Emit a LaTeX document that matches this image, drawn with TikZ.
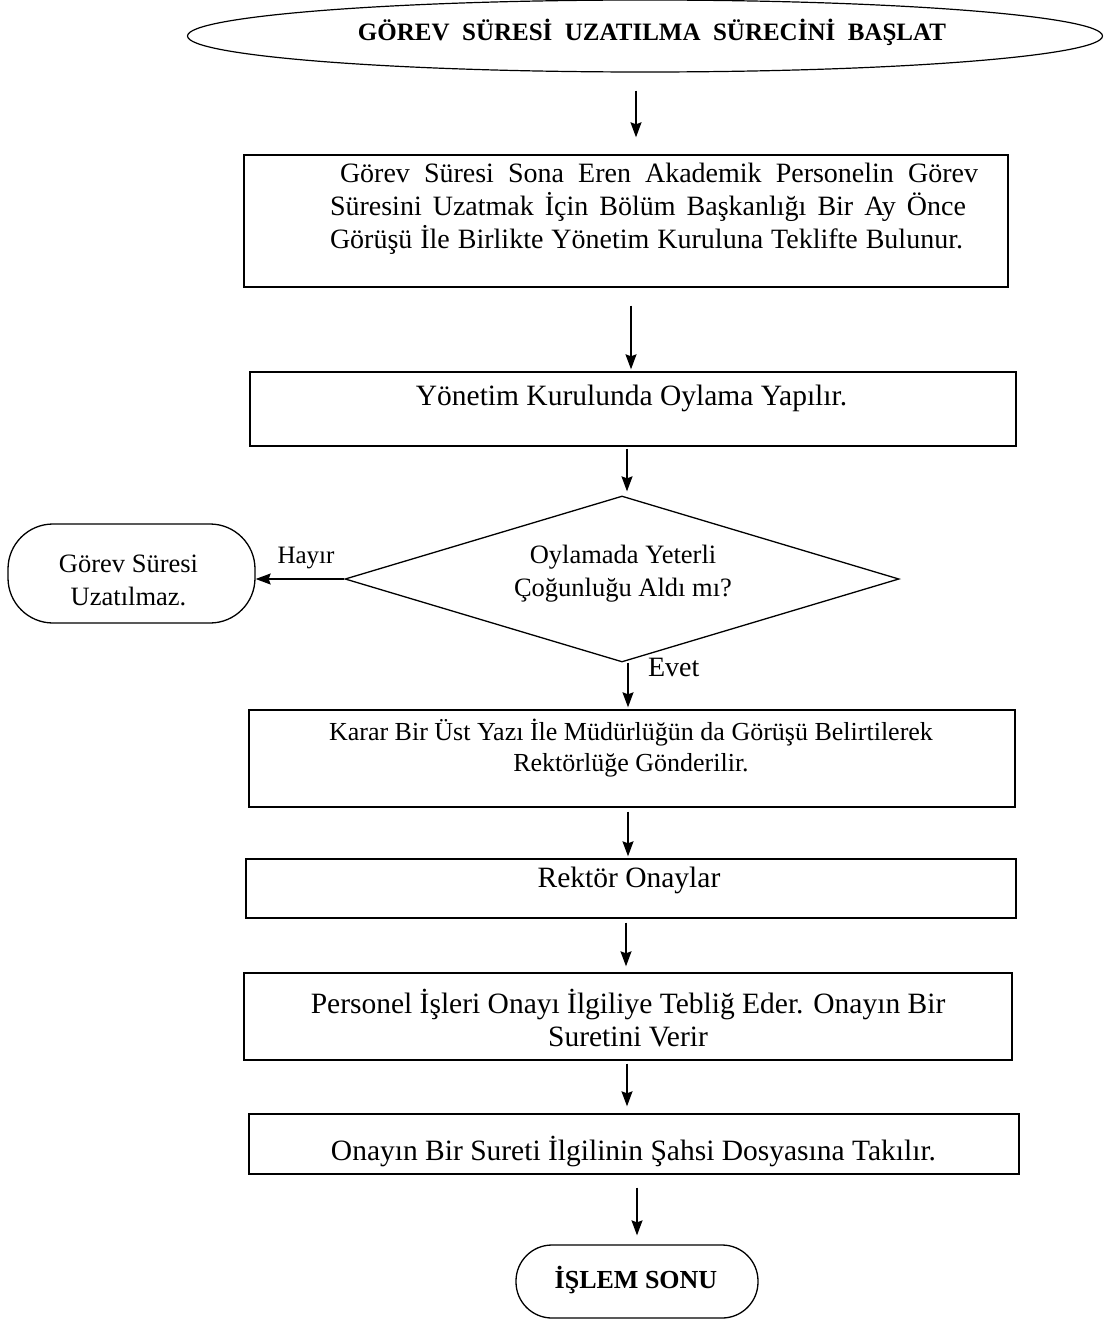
\documentclass[tikz,border=0pt]{standalone}
\usepackage{fontspec}
\setmainfont{Liberation Serif}
\usetikzlibrary{shapes.geometric,arrows.meta}
\begin{document}
\begin{tikzpicture}[x=1pt,y=-1pt,
  box/.style={draw, line width=1.4pt, rectangle, inner sep=0pt},
  term/.style={draw, line width=1.3pt, rectangle, inner sep=0pt},
  arr/.style={-{Stealth[length=15pt,width=11pt,inset=2pt]}, line width=1.4pt},
  fA/.style={font=\fontsize{29.5}{33}\selectfont},
  fB/.style={font=\fontsize{26}{31}\selectfont},
  fC/.style={font=\fontsize{26.5}{33}\selectfont}]
\useasboundingbox (0,0) rectangle (1109,1322);

\node[draw, line width=1.2pt, ellipse, minimum width=915pt, minimum height=72pt, inner sep=0pt] (start) at (645,36) {};
\node[font=\fontsize{25}{29}\bfseries\selectfont] (startt) at (652,32) {GÖREV\ \ SÜRESİ\ \ UZATILMA\ \ SÜRECİNİ\ \ BAŞLAT};

\node[box, minimum width=764pt, minimum height=132pt] (b1) at (626,221) {};
\node[font=\fontsize{28}{33}\selectfont, align=left, inner sep=0pt] (b1t) at (654,209) {\hspace{10pt}\makebox[638pt][s]{Görev Süresi Sona Eren Akademik Personelin Görev}\\\makebox[636pt][s]{Süresini Uzatmak İçin Bölüm Başkanlığı Bir Ay Önce}\\\makebox[633pt][s]{Görüşü İle Birlikte Yönetim Kuruluna Teklifte Bulunur.}};

\node[box, minimum width=766pt, minimum height=74pt] (b2) at (633,409) {};
\node[fA] (b2t) at (631.5,398) {Yönetim Kurulunda Oylama Yapılır.};

\node[draw, line width=1.3pt, diamond, minimum width=554pt, minimum height=166pt, inner sep=0pt] (d) at (622,579) {};
\node[fC, align=center] (dt) at (623,574) {Oylamada Yeterli\\Çoğunluğu Aldı mı?};

\node[term, rounded corners=45pt, minimum width=247pt, minimum height=99pt] (no) at (131.5,573.5) {};
\node[fC, align=center] (not) at (128.5,580) {Görev Süresi\\Uzatılmaz.};

\node[box, minimum width=766pt, minimum height=97pt] (b3) at (632,758.5) {};
\node[fB, align=center] (b3t) at (631,748) {Karar Bir Üst Yazı İle Müdürlüğün da Görüşü Belirtilerek\\Rektörlüğe Gönderilir.};

\node[box, minimum width=770pt, minimum height=59pt] (b4) at (631,888.5) {};
\node[fA] (b4t) at (629,880) {Rektör Onaylar};

\node[box, minimum width=768pt, minimum height=87pt] (b5) at (628,1016.5) {};
\node[fA, align=center] (b5t) at (628,1018) {Personel İşleri Onayı İlgiliye Tebliğ Eder. Onayın Bir\\Suretini Verir};

\node[box, minimum width=770pt, minimum height=60pt] (b6) at (634,1144) {};
\node[fA] (b6t) at (633.5,1151) {Onayın Bir Sureti İlgilinin Şahsi Dosyasına Takılır.};

\node[term, rounded corners=36pt, minimum width=242pt, minimum height=73pt] (end) at (637,1281.5) {};
\node[font=\fontsize{26}{30}\bfseries\selectfont] (endt) at (636,1280) {İŞLEM SONU};

\draw[arr, shorten <=18pt, shorten >=17pt] ([xshift=-9pt]start.south) -- ([xshift=10pt]b1.north);
\draw[arr, shorten <=18pt, shorten >=2pt] ([xshift=5pt]b1.south) -- ([xshift=-2pt]b2.north);
\draw[arr, shorten <=2pt, shorten >=4pt] ([xshift=-6pt]b2.south) -- ([xshift=5pt]d.north);
\draw[arr] (d.west) -- (d.west -| no.east) node[midway, above=6pt, xshift=6pt, font=\fontsize{25}{30}\selectfont] (hay) {Hayır};
\draw[arr, shorten >=2pt] ([xshift=6pt]d.south) -- ([xshift=-4pt]b3.north) node[pos=0.1, right=16pt, font=\fontsize{28}{32}\selectfont] (evet) {Evet};
\draw[arr, shorten <=4pt, shorten >=2pt] ([xshift=-4pt]b3.south) -- ([xshift=-3pt]b4.north);
\draw[arr, shorten <=4pt, shorten >=6pt] ([xshift=-5pt]b4.south) -- ([xshift=-2pt]b5.north);
\draw[arr, shorten <=3pt, shorten >=7pt] ([xshift=-1pt]b5.south) -- ([xshift=-7pt]b6.north);
\draw[arr, shorten <=13pt, shorten >=9pt] ([xshift=3pt]b6.south) -- (end.north);
\end{tikzpicture}
\end{document}
